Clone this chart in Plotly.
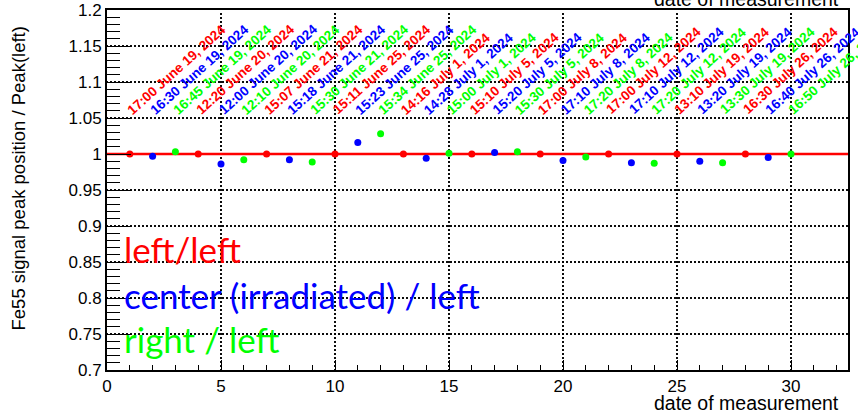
import numpy as np
import plotly.graph_objects as go

# Measurement index (x) and peak-position ratio (y) for each pad position
left_idx = [1, 4, 7, 10, 13, 16, 19, 22, 25, 28]
left_ratio = [1.0, 1.0, 1.0, 1.0, 1.0, 1.0, 1.0, 1.0, 1.0, 1.0]
left_dates = ["17:00 June 19, 2024", "12:20 June 20, 2024", "15:07 June 21, 2024",
              "15:11 June 25, 2024", "14:16 July 1, 2024", "15:10 July 5, 2024",
              "17:00 July 8, 2024", "17:00 July 12, 2024", "13:10 July 19, 2024",
              "16:30 July 26, 2024"]

center_idx = [2, 5, 8, 11, 14, 17, 20, 23, 26, 29]
center_ratio = [0.997, 0.986, 0.992, 1.016, 0.994, 1.002, 0.991, 0.988, 0.990, 0.995]
center_dates = ["16:30 June 19, 2024", "12:00 June 20, 2024", "15:18 June 21, 2024",
                "15:23 June 25, 2024", "14:28 July 1, 2024", "15:20 July 5, 2024",
                "17:10 July 8, 2024", "17:10 July 12, 2024", "13:20 July 19, 2024",
                "16:40 July 26, 2024"]

right_idx = [3, 6, 9, 12, 15, 18, 21, 24, 27, 30]
right_ratio = [1.003, 0.992, 0.989, 1.028, 1.001, 1.003, 0.996, 0.987, 0.988, 1.0]
right_dates = ["16:45 June 19, 2024", "12:10 June 20, 2024", "15:30 June 21, 2024",
               "15:34 June 25, 2024", "15:00 July 1, 2024", "15:30 July 5, 2024",
               "17:20 July 8, 2024", "17:20 July 12, 2024", "13:30 July 19, 2024",
               "16:50 July 26, 2024"]

x_ticks = [0, 5, 10, 15, 20, 25, 30]
x_tick_text = ["0", "5", "10", "15", "20", "25", "30"]
y_ticks = [0.7, 0.75, 0.8, 0.85, 0.9, 0.95, 1.0, 1.05, 1.1, 1.15, 1.2]
y_tick_text = ["0.7", "0.75", "0.8", "0.85", "0.9", "0.95", "1", "1.05", "1.1", "1.15", "1.2"]

X_RANGE = [0, 32.5]
Y_RANGE = [0.7, 1.2]
REFERENCE_RATIO = 1.0
DATE_LABEL_Y = 1.047

WIDTH, HEIGHT = 858, 415
MARGIN = dict(l=107, r=10, t=10, b=45)

RED, BLUE, GREEN = "#ff0000", "#0000ff", "#00ff00"

series = [
    ("left/left", left_idx, left_ratio, left_dates, RED),
    ("center (irradiated) / left", center_idx, center_ratio, center_dates, BLUE),
    ("right / left", right_idx, right_ratio, right_dates, GREEN),
]

fig = go.Figure()

# Dotted grid at the inner major ticks, drawn as small square dots every 4 px
DOT_GAP_PX = 4
x_per_px = (X_RANGE[1] - X_RANGE[0]) / (WIDTH - MARGIN["l"] - MARGIN["r"])
y_per_px = (Y_RANGE[1] - Y_RANGE[0]) / (HEIGHT - MARGIN["t"] - MARGIN["b"])
run_y = np.arange(Y_RANGE[0], Y_RANGE[1], DOT_GAP_PX * y_per_px)
run_x = np.arange(X_RANGE[0], X_RANGE[1], DOT_GAP_PX * x_per_px)
grid_x, grid_y = [], []
for xv in x_ticks:
    if X_RANGE[0] < xv < X_RANGE[1]:
        grid_x += [xv] * len(run_y)
        grid_y += list(run_y)
for yv in y_ticks:
    if Y_RANGE[0] < yv < Y_RANGE[1]:
        grid_x += list(run_x)
        grid_y += [yv] * len(run_x)
fig.add_trace(go.Scatter(
    x=grid_x, y=grid_y, mode="markers", hoverinfo="skip",
    marker=dict(symbol="square", size=1.9, color="black", line=dict(width=0)),
))

# Unit-ratio reference line across the full x range
fig.add_trace(go.Scatter(
    x=X_RANGE, y=[REFERENCE_RATIO, REFERENCE_RATIO], mode="lines",
    line=dict(color=RED, width=2.6), hoverinfo="skip",
))

for name, xs, ys, _, color in series:
    fig.add_trace(go.Scatter(
        x=xs, y=ys, mode="markers", name=name,
        marker=dict(color=color, size=7, line=dict(width=0)),
    ))

annotations = []

# Rotated measurement timestamps above each point
for name, xs, ys, dates, color in series:
    for xv, txt in zip(xs, dates):
        annotations.append(dict(
            x=xv, y=DATE_LABEL_Y, xref="x", yref="y", text="<b>" + txt + "</b>",
            showarrow=False, textangle=-42, xanchor="left", yanchor="bottom",
            xshift=-8, font=dict(family="Liberation Sans", size=13.5, color=color),
        ))

# Series key written inside the frame
key_font = "Lato"
key_y = [0.2726, 0.1446, 0.0223]
for (name, _, _, _, color), ky in zip(series, key_y):
    annotations.append(dict(
        x=0.0198, y=ky, xref="paper", yref="paper", text=name, showarrow=False,
        xanchor="left", yanchor="bottom",
        font=dict(family=key_font, size=35, color=color),
    ))

# Axis titles
annotations.append(dict(
    x=-0.12, y=0.96, xref="paper", yref="paper",
    text="Fe55 signal peak position / Peak(left)", showarrow=False,
    textangle=-90, xanchor="center", yanchor="top",
    font=dict(family="Liberation Sans", size=18.5, color="black"),
))
annotations.append(dict(
    x=0.9899, y=-0.0923, xref="paper", yref="paper", text="date of measurement",
    showarrow=False, xanchor="right", yanchor="middle",
    font=dict(family="Liberation Sans", size=19.5, color="black"),
))
annotations.append(dict(
    x=0.9899, y=1.0295, xref="paper", yref="paper", text="date of measurement",
    showarrow=False, xanchor="right", yanchor="middle",
    font=dict(family="Liberation Sans", size=19.5, color="black"),
))

axis_common = dict(
    showline=True, linecolor="black", linewidth=2, mirror=True,
    ticks="inside", tickcolor="black", tickwidth=1,
    showgrid=False, zeroline=False,
    tickfont=dict(family="Liberation Sans", size=17, color="black"),
)

fig.update_xaxes(
    range=X_RANGE, tickvals=x_ticks, ticktext=x_tick_text, ticklen=10,
    minor=dict(dtick=1, ticklen=5, tickcolor="black", ticks="inside"),
    **axis_common,
)
fig.update_yaxes(
    range=Y_RANGE, tickvals=y_ticks, ticktext=y_tick_text, ticklen=24,
    minor=dict(dtick=0.01, ticklen=13, tickcolor="black", ticks="inside"),
    **axis_common,
)

fig.update_layout(
    width=WIDTH, height=HEIGHT,
    margin=dict(**MARGIN, autoexpand=False),
    paper_bgcolor="white", plot_bgcolor="white",
    showlegend=False,
    annotations=annotations,
)

fig.write_html("out.html")
